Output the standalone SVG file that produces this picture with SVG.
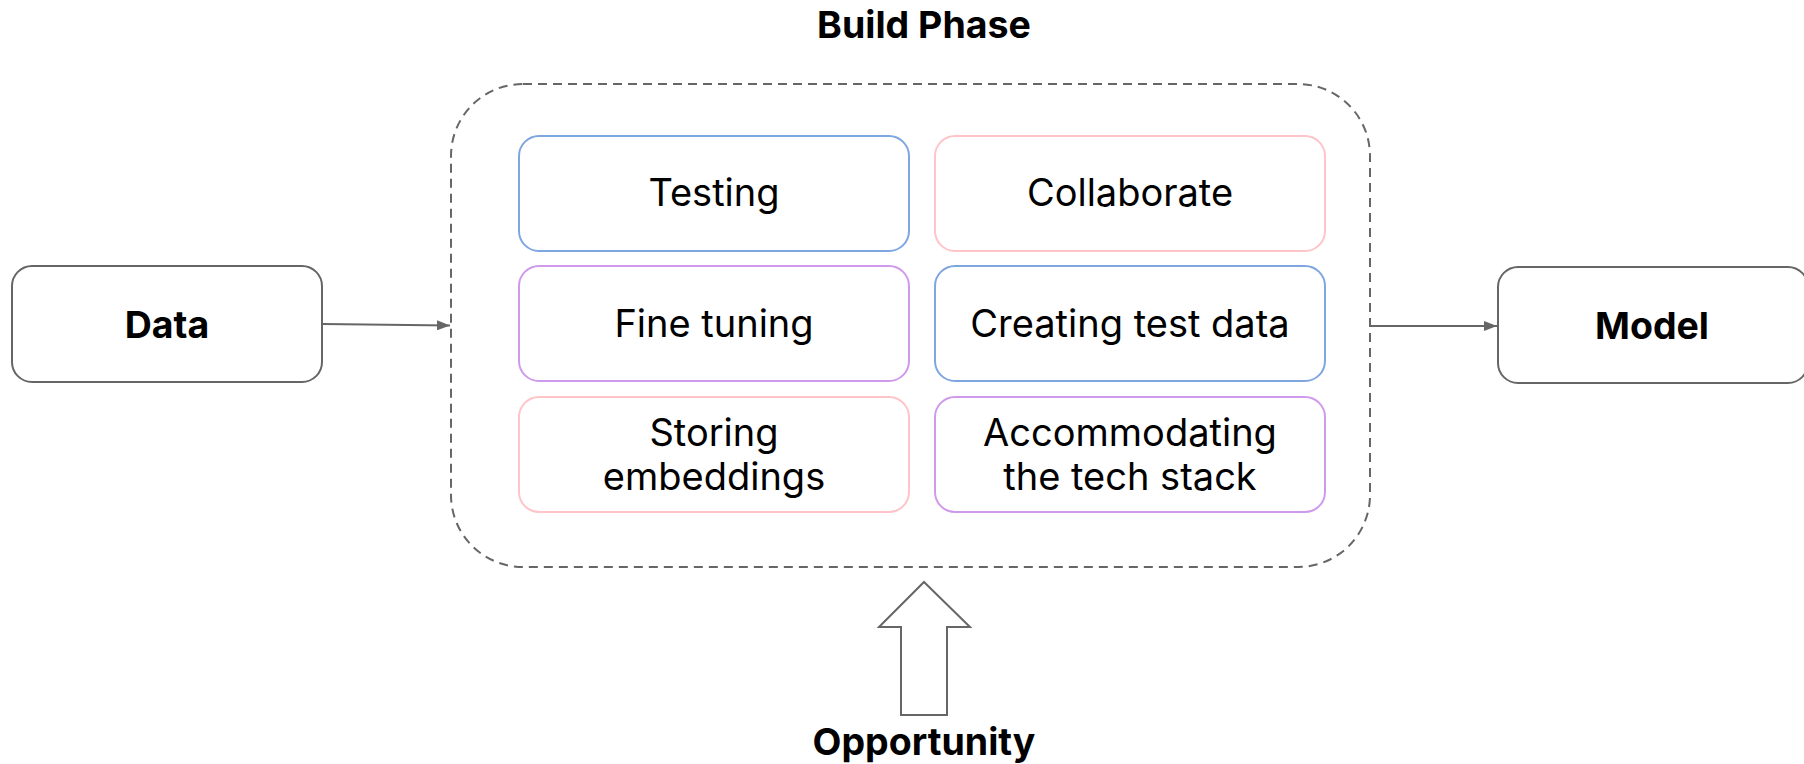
<svg xmlns="http://www.w3.org/2000/svg" width="1804" height="764" viewBox="0 0 1804 764">
  <style>
    .lbl { font-family: Inter, "Liberation Sans", sans-serif; font-size: 38px; fill: #000; text-anchor: middle; }
    .bold { font-weight: bold; font-size: 37.5px; }
    .gray { fill: #fff; stroke: #666; stroke-width: 2; }
    .blue { fill: #fff; stroke: #7EA6E0; stroke-width: 2; }
    .pink { fill: #fff; stroke: #FFC4C8; stroke-width: 2; }
    .purple { fill: #fff; stroke: #D09AEC; stroke-width: 2; }
    .conn { stroke: #666; stroke-width: 2; fill: none; }
  </style>
  <defs>
    <marker id="arr" markerWidth="14" markerHeight="10" refX="13" refY="5" orient="auto" markerUnits="userSpaceOnUse">
      <path d="M0,0 L13,5 L0,10 Z" fill="#666"/>
    </marker>
  </defs>
  <rect width="1804" height="764" fill="#fff"/>

  <g id="build-phase">
    <rect x="451" y="84" width="919" height="483" rx="72" ry="72" fill="none" stroke="#666" stroke-width="2" stroke-dasharray="9 6"/>
    <text class="lbl bold" x="924" y="38">Build Phase</text>
  </g>

  <g id="testing">
    <rect class="blue" x="519" y="136" width="390" height="115" rx="20"/>
    <text class="lbl" x="714" y="206">Testing</text>
  </g>
  <g id="collaborate">
    <rect class="pink" x="935" y="136" width="390" height="115" rx="20"/>
    <text class="lbl" x="1130" y="206">Collaborate</text>
  </g>
  <g id="fine-tuning">
    <rect class="purple" x="519" y="266" width="390" height="115" rx="20"/>
    <text class="lbl" x="714" y="337">Fine tuning</text>
  </g>
  <g id="creating-test-data">
    <rect class="blue" x="935" y="266" width="390" height="115" rx="20"/>
    <text class="lbl" x="1130" y="337">Creating test data</text>
  </g>
  <g id="storing-embeddings">
    <rect class="pink" x="519" y="397" width="390" height="115" rx="20"/>
    <text class="lbl" x="714" y="446">Storing</text>
    <text class="lbl" x="714" y="490">embeddings</text>
  </g>
  <g id="accommodating">
    <rect class="purple" x="935" y="397" width="390" height="115" rx="20"/>
    <text class="lbl" x="1130" y="446">Accommodating</text>
    <text class="lbl" x="1130" y="490">the tech stack</text>
  </g>

  <g id="data">
    <rect class="gray" x="12" y="266" width="310" height="116" rx="20"/>
    <text class="lbl bold" x="167" y="338">Data</text>
  </g>
  <g id="model">
    <rect class="gray" x="1498" y="267" width="310" height="116" rx="20"/>
    <text class="lbl bold" x="1652" y="339">Model</text>
  </g>

  <g id="opportunity">
    <polygon points="924,582 970,627 947,627 947,715 901,715 901,627 879,627" fill="#fff" stroke="#666" stroke-width="2"/>
    <text class="lbl bold" x="924" y="755">Opportunity</text>
  </g>

  <g id="connectors">
    <line class="conn" x1="323" y1="324" x2="450" y2="325.5" marker-end="url(#arr)"/>
    <line class="conn" x1="1370" y1="326" x2="1497" y2="326" marker-end="url(#arr)"/>
  </g>
</svg>
